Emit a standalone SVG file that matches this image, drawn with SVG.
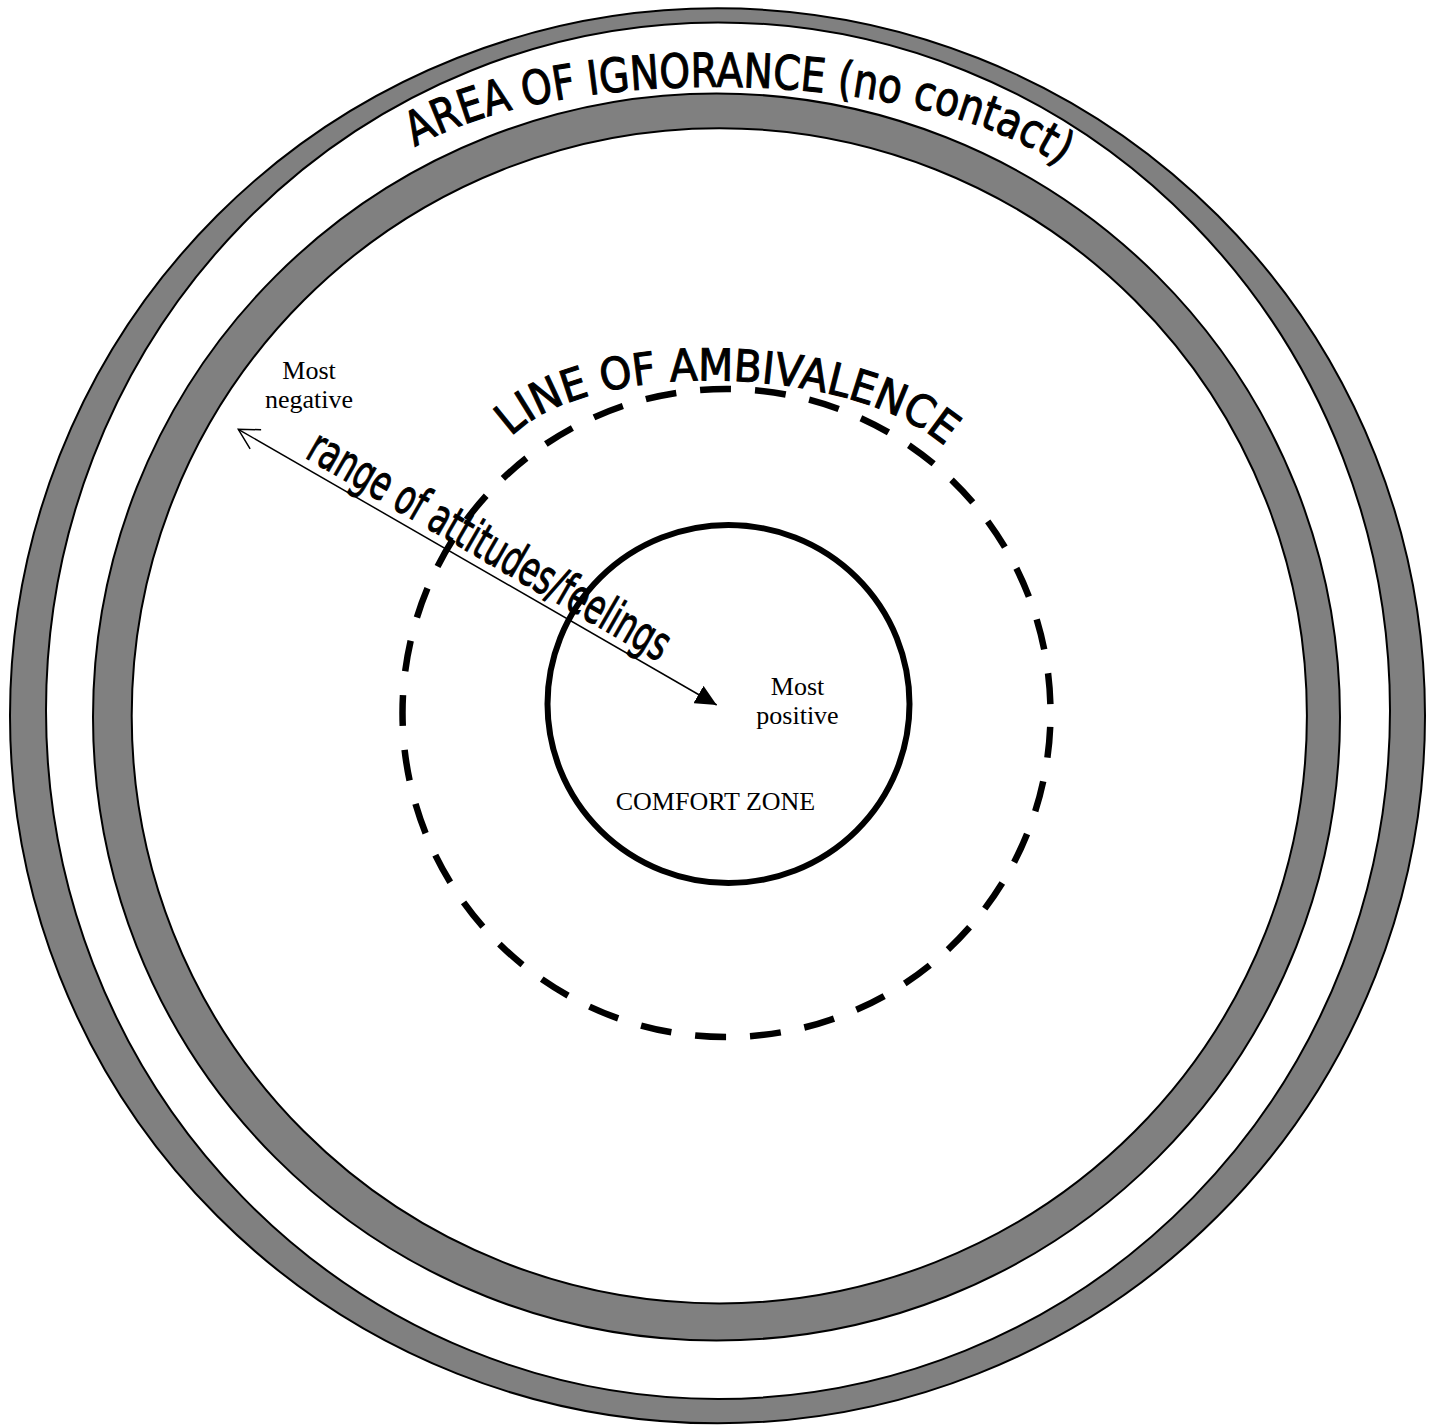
<svg xmlns="http://www.w3.org/2000/svg" width="1437" height="1425" viewBox="0 0 1437 1425">
<style>
.band{fill:#808080;stroke:#000;stroke-width:2}
.gap{fill:#fff;stroke:#000;stroke-width:2}
.arc{font-family:"DejaVu Sans","Verdana",sans-serif;fill:#000;stroke:#000;stroke-width:1.1}
.serif{font-family:"Liberation Serif","Times New Roman",serif;font-size:26px;fill:#000;text-anchor:middle}
.conn{stroke:#000;stroke-width:1.5;fill:none}
</style>
<defs>
<path id="p-ignorance" d="M415,147 C566,60 933,66 1070,173"/>
<path id="p-ambivalence" d="M511,437 C594,354 868,364 954,455"/>
<marker id="open-head" viewBox="0 0 24 24" refX="2" refY="12" markerWidth="24" markerHeight="24" markerUnits="userSpaceOnUse" orient="auto">
<path d="M22,1 L2,12 L22,23" fill="none" stroke="#000" stroke-width="1.5"/>
</marker>
<marker id="solid-head" viewBox="0 0 22 20" refX="21" refY="10" markerWidth="22" markerHeight="20" markerUnits="userSpaceOnUse" orient="auto">
<path d="M0,0 L21,10 L0,20 Z" fill="#000"/>
</marker>
</defs>
<rect width="1437" height="1425" fill="#fff"/>
<g id="area-of-ignorance">
<circle class="band" cx="717.5" cy="715.8" r="707.5"/>
<ellipse class="gap" cx="718" cy="710.7" rx="672" ry="688.3"/>
<text class="arc" font-size="47"><textPath href="#p-ignorance" textLength="668" lengthAdjust="spacingAndGlyphs">AREA OF IGNORANCE (no contact)</textPath></text>
</g>
<g id="outer-boundary">
<circle class="band" cx="716.5" cy="717" r="623.5"/>
<circle class="gap" cx="719.3" cy="715.8" r="587.6"/>
</g>
<g id="line-of-ambivalence">
<circle cx="726.5" cy="713" r="324" fill="none" stroke="#000" stroke-width="6.5" stroke-dasharray="31 24.03" stroke-dashoffset="-13.9"/>
<text class="arc" font-size="44"><textPath href="#p-ambivalence" textLength="460" lengthAdjust="spacingAndGlyphs">LINE OF AMBIVALENCE</textPath></text>
</g>
<g id="comfort-zone">
<ellipse cx="728.5" cy="704" rx="181" ry="179" fill="none" stroke="#000" stroke-width="6"/>
<text class="serif" x="715.5" y="810">COMFORT ZONE</text>
</g>
<g id="most-negative">
<text class="serif" x="309" y="379">Most</text>
<text class="serif" x="309" y="408">negative</text>
</g>
<g id="most-positive">
<text class="serif" x="797.5" y="695">Most</text>
<text class="serif" x="797.5" y="724">positive</text>
</g>
<g id="connectors">
<line class="conn" x1="238.3" y1="429.3" x2="716.7" y2="705" marker-start="url(#open-head)" marker-end="url(#solid-head)"/>
<text class="arc" font-size="48" transform="translate(304,457) rotate(30)" textLength="410" lengthAdjust="spacingAndGlyphs">range of attitudes/feelings</text>
</g>
</svg>
